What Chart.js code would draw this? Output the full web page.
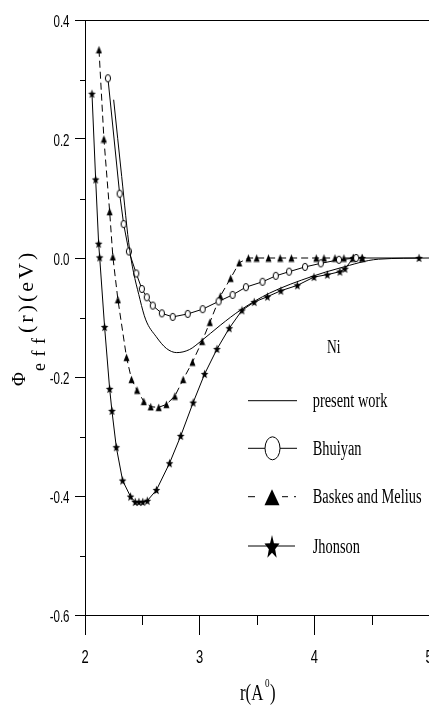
<!DOCTYPE html>
<html>
<head>
<meta charset="utf-8">
<script src="https://cdn.jsdelivr.net/npm/chart.js@4.4.0/dist/chart.umd.min.js"></script>
<style>
  html, body { margin: 0; padding: 0; background: #fff; overflow: hidden; }
  #grafico { display: block; }
</style>
</head>
<body>
<canvas id="grafico" width="434" height="707" style="width:434px;height:707px"></canvas>
<script>
// valores (r em A, phi em eV)
const presentR   = [2.25, 2.32, 2.39, 2.48, 2.53, 2.62, 2.71, 2.80, 2.91, 3.01, 3.18, 3.36, 3.61, 3.98, 4.22, 4.56, 5.0];
const presentPhi = [0.266, 0.137, 0.013, -0.070, -0.104, -0.132, -0.152, -0.159, -0.154, -0.140, -0.113, -0.087, -0.059, -0.031, -0.017, -0.002, 0];

const bhuiyanR   = [2.200, 2.302, 2.337, 2.383, 2.447, 2.496, 2.539, 2.591, 2.670, 2.765, 2.896, 3.026, 3.165, 3.287, 3.403, 3.548, 3.664, 3.780, 3.919, 4.056, 4.215, 4.365];
const bhuiyanPhi = [0.302, 0.108, 0.057, 0.011, -0.026, -0.052, -0.066, -0.080, -0.093, -0.099, -0.094, -0.086, -0.073, -0.062, -0.049, -0.040, -0.030, -0.023, -0.015, -0.009, -0.003, 0];

const baskesR   = [2.122, 2.165, 2.215, 2.243, 2.287, 2.362, 2.406, 2.454, 2.513, 2.573, 2.643, 2.710, 2.784, 2.856, 2.937, 3.021, 3.089, 3.180, 3.270, 3.345, 3.425, 3.497, 3.600, 3.702, 3.800, 4.017, 4.084, 4.180, 4.258, 4.337, 4.417];
const baskesPhi = [0.350, 0.200, 0.078, 0.002, -0.070, -0.167, -0.204, -0.222, -0.241, -0.250, -0.251, -0.246, -0.232, -0.204, -0.175, -0.140, -0.108, -0.064, -0.034, -0.008, 0, 0, 0, 0, 0, 0, 0, 0, 0, 0, 0];

const jhonsonR   = [2.061, 2.093, 2.119, 2.128, 2.171, 2.215, 2.235, 2.273, 2.328, 2.397, 2.438, 2.470, 2.504, 2.543, 2.623, 2.737, 2.835, 2.943, 3.043, 3.151, 3.258, 3.369, 3.476, 3.591, 3.708, 3.852, 3.997, 4.113, 4.223, 4.267, 4.341, 4.417, 4.913];
const jhonsonPhi = [0.276, 0.132, 0.024, 0.001, -0.116, -0.220, -0.257, -0.318, -0.374, -0.401, -0.410, -0.410, -0.410, -0.408, -0.390, -0.345, -0.299, -0.243, -0.195, -0.153, -0.118, -0.088, -0.074, -0.065, -0.055, -0.046, -0.032, -0.028, -0.023, -0.018, 0, 0, 0];

const xMajor = [2, 3, 4, 5];
const xMinor = [2.5, 3.5, 4.5];
const yMinor = [-0.5, -0.3, -0.1, 0.1, 0.3];

const legendLabels = ['present work', 'Bhuiyan', 'Baskes and Melius', 'Jhonson'];

const serif = '"Liberation Serif", "Times New Roman", serif';
const sans = '"Liberation Sans", Arial, sans-serif';

function pontos(xs, ys) {
    return xs.map((x, i) => ({ x: x, y: ys[i] }));
}

// desenha uma estrela de 5 pontas esticada na vertical
function estrela(ctx, cx, cy, rx, ry) {
    ctx.beginPath();
    for (let i = 0; i < 10; i++) {
        const a = -Math.PI / 2 + i * Math.PI / 5;
        const k = i % 2 ? 0.42 : 1;
        const px = cx + rx * k * Math.cos(a);
        const py = cy + ry * k * Math.sin(a);
        if (i === 0) ctx.moveTo(px, py); else ctx.lineTo(px, py);
    }
    ctx.closePath();
    ctx.fill();
}

function triangulo(ctx, cx, cy, w, h) {
    ctx.beginPath();
    ctx.moveTo(cx, cy - h / 2);
    ctx.lineTo(cx + w / 2, cy + h / 2);
    ctx.lineTo(cx - w / 2, cy + h / 2);
    ctx.closePath();
    ctx.fill();
}

function elipse(ctx, cx, cy, rx, ry) {
    ctx.beginPath();
    ctx.ellipse(cx, cy, rx, ry, 0, 0, Math.PI * 2);
    ctx.fillStyle = '#fff';
    ctx.fill();
    ctx.strokeStyle = '#000';
    ctx.lineWidth = 1;
    ctx.stroke();
}

function imagem(w, h, fn) {
    const c = document.createElement('canvas');
    c.width = w;
    c.height = h;
    const g = c.getContext('2d');
    g.fillStyle = '#000';
    fn(g, w, h);
    return c;
}

const imgCirculo = imagem(8, 10, (g) => elipse(g, 4, 5, 2.6, 3.6));
const imgTriangulo = imagem(7, 9, (g) => triangulo(g, 3.5, 4.5, 6, 7.5));
const imgEstrela = imagem(9, 10, (g) => estrela(g, 4.5, 5.4, 4, 4.8));

function texto(ctx, str, x, y, font, sx, align) {
    ctx.save();
    ctx.translate(x, y);
    ctx.scale(sx, 1);
    ctx.font = font;
    ctx.textAlign = align || 'left';
    ctx.textBaseline = 'alphabetic';
    ctx.fillStyle = '#000';
    ctx.fillText(str, 0, 0);
    ctx.restore();
}

// texto girado 90 graus, com espaço extra entre as letras
function textoVertical(ctx, str, x, y, font, gap) {
    ctx.save();
    ctx.translate(x, y);
    ctx.rotate(-Math.PI / 2);
    ctx.font = font;
    ctx.fillStyle = '#000';
    ctx.textBaseline = 'alphabetic';
    let pos = 0;
    for (const ch of str) {
        ctx.fillText(ch, pos, 0);
        pos += ctx.measureText(ch).width + gap;
    }
    ctx.restore();
}

const eixosPlugin = {
    id: 'eixos',
    afterDraw(chart) {
        const ctx = chart.ctx;
        const xs = chart.scales.x;
        const ys = chart.scales.y;
        const area = chart.chartArea;

        ctx.save();
        ctx.strokeStyle = '#000';
        ctx.lineWidth = 1;
        ctx.beginPath();
        // linha superior
        ctx.moveTo(area.left, Math.round(area.top) + 0.5);
        ctx.lineTo(area.right + 2, Math.round(area.top) + 0.5);
        // ticks menores
        xMinor.forEach(v => {
            const px = Math.round(xs.getPixelForValue(v)) + 0.5;
            ctx.moveTo(px, area.bottom);
            ctx.lineTo(px, area.bottom + 10);
        });
        yMinor.forEach(v => {
            const py = Math.round(ys.getPixelForValue(v)) + 0.5;
            ctx.moveTo(area.left - 5, py);
            ctx.lineTo(area.left, py);
        });
        ctx.stroke();
        ctx.restore();

        // rótulos dos ticks
        ys.ticks.forEach(t => {
            const v = Math.abs(t.value) < 1e-9 ? 0 : t.value;
            texto(ctx, v.toFixed(1), 69.5, ys.getPixelForValue(t.value) + 6.5, '16px ' + sans, 0.72, 'right');
        });
        xMajor.forEach(v => {
            texto(ctx, String(v), xs.getPixelForValue(v), 663, '18px ' + sans, 0.72, 'center');
        });

        // título do eixo y
        textoVertical(ctx, 'Φ', 25, 386, '19px ' + serif, 0);
        textoVertical(ctx, 'eff', 45, 371, '18px ' + serif, 6.5);
        textoVertical(ctx, '(r)(eV)', 33, 333, '22px ' + serif, 3);

        // título do eixo x
        texto(ctx, 'r(A', 240, 700, '24px ' + serif, 0.7);
        texto(ctx, '0', 265, 687, '13px ' + serif, 0.7);
        texto(ctx, ')', 270, 700, '24px ' + serif, 0.7);

        // legenda
        texto(ctx, 'Ni', 327, 353, '18px ' + serif, 0.75);
        const linhas = [400.7, 448.3, 496.7, 546];
        ctx.save();
        ctx.strokeStyle = '#000';
        ctx.fillStyle = '#000';
        ctx.lineWidth = 1;
        ctx.beginPath();
        ctx.moveTo(248, linhas[0]); ctx.lineTo(297, linhas[0]);
        ctx.moveTo(248, linhas[1]); ctx.lineTo(297, linhas[1]);
        ctx.moveTo(248, linhas[2]); ctx.lineTo(255, linhas[2]);
        ctx.moveTo(282, linhas[2]); ctx.lineTo(288, linhas[2]);
        ctx.moveTo(294, linhas[2]); ctx.lineTo(296, linhas[2]);
        ctx.moveTo(248, linhas[3]); ctx.lineTo(295, linhas[3]);
        ctx.stroke();
        elipse(ctx, 272.5, linhas[1], 7.5, 11.5);
        ctx.fillStyle = '#000';
        triangulo(ctx, 272, linhas[2] + 0.5, 15, 16);
        estrela(ctx, 272, linhas[3] + 1.5, 7.9, 12.6);
        ctx.restore();
        legendLabels.forEach((s, i) => {
            texto(ctx, s, 312.7, linhas[i] + 6.5, '20px ' + serif, 0.72);
        });
    }
};

document.addEventListener('DOMContentLoaded', () => {
    const ctx = document.getElementById('grafico').getContext('2d');

    new Chart(ctx, {
        type: 'line',
        data: {
            datasets: [{
                label: legendLabels[0],
                data: pontos(presentR, presentPhi),
                borderColor: '#000',
                borderWidth: 1,
                pointRadius: 0,
                cubicInterpolationMode: 'monotone'
            },
            {
                label: legendLabels[1],
                data: pontos(bhuiyanR, bhuiyanPhi),
                borderColor: '#000',
                borderWidth: 1,
                pointStyle: imgCirculo,
                pointRadius: 3,
                tension: 0
            },
            {
                label: legendLabels[2],
                data: pontos(baskesR, baskesPhi),
                borderColor: '#000',
                borderWidth: 1,
                borderDash: [7, 4],
                pointStyle: imgTriangulo,
                pointRadius: 3,
                tension: 0
            },
            {
                label: legendLabels[3],
                data: pontos(jhonsonR, jhonsonPhi),
                borderColor: '#000',
                borderWidth: 1,
                pointStyle: imgEstrela,
                pointRadius: 3,
                tension: 0
            }]
        },
        options: {
            responsive: false,
            animation: false,
            devicePixelRatio: 1,
            layout: { padding: { top: 20, left: 0, right: 0, bottom: 0 } },
            plugins: {
                legend: { display: false },
                tooltip: { enabled: false }
            },
            scales: {
                x: {
                    type: 'linear',
                    min: 2,
                    max: 5,
                    ticks: { stepSize: 1, display: false },
                    grid: { drawOnChartArea: false, tickLength: 20, tickColor: '#000' },
                    border: { color: '#000', width: 1 },
                    afterFit: (s) => { s.height = 92; }
                },
                y: {
                    min: -0.6,
                    max: 0.4,
                    ticks: { stepSize: 0.2, display: false },
                    grid: { drawOnChartArea: false, tickLength: 10, tickColor: '#000' },
                    border: { color: '#000', width: 1 },
                    afterFit: (s) => { s.width = 85; }
                }
            }
        },
        plugins: [eixosPlugin]
    });
});
</script>
</body>
</html>
